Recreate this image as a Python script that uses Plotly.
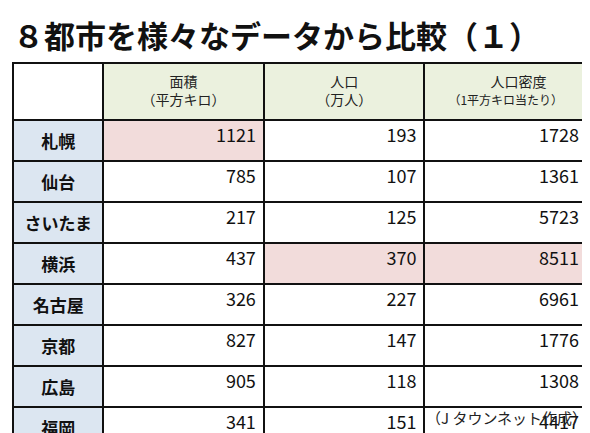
import plotly.graph_objects as go

cities = ["札幌", "仙台", "さいたま", "横浜", "名古屋", "京都", "広島", "福岡"]
area = [1121, 785, 217, 437, 326, 827, 905, 341]
population = [193, 107, 125, 370, 227, 147, 118, 151]
density = [1728, 1361, 5723, 8511, 6961, 1776, 1308, 4417]
headers = ["", "　　面積<br>（平方キロ）", "　人口<br>（万人）",
           "　　　人口密度<br><span style='font-size:12px'>（1平方キロ当たり）</span>"]

# 強調セル
pink = "#f2dcdb"
white = "white"
col_area = [pink if c == "札幌" else white for c in cities]
col_pop = [pink if c == "横浜" else white for c in cities]
col_den = [pink if c == "横浜" else white for c in cities]

fig = go.Figure(go.Table(
    columnwidth=[90, 160, 160, 162],
    header=dict(
        values=headers,
        fill_color=["white", "#ebf1de", "#ebf1de", "#ebf1de"],
        line=dict(color="#111", width=2),
        align="center",
        height=57,
        font=dict(family="Noto Sans CJK JP", size=14, color="#222"),
    ),
    cells=dict(
        values=[["<b>" + c + "</b>" for c in cities], area, population, density],
        fill_color=[["#dce6f1"] * 8, col_area, col_pop, col_den],
        line=dict(color="#111", width=2),
        align=["center", "right", "right", "right"],
        height=33.5,
        font=dict(family="Noto Sans CJK JP", size=[17, 18, 18, 18], color="#111"),
    ),
    domain=dict(x=[5 / 590, 579 / 590], y=[0, 1 - 55 / 433]),
))

fig.add_annotation(text="<b>８都市を様々なデータから比較（１）</b>", x=0.005, y=1 - 2 / 433,
                   xref="paper", yref="paper", xanchor="left", yanchor="top", showarrow=False,
                   font=dict(family="Noto Sans CJK JP", size=31, color="#111"))
fig.add_annotation(text="（J タウンネット作成）", x=0.985, y=1 - 397 / 433,
                   xref="paper", yref="paper", xanchor="right", yanchor="top", showarrow=False,
                   font=dict(family="Noto Sans CJK JP", size=15, color="#222"))

fig.update_layout(width=590, height=433, margin=dict(l=0, r=0, t=0, b=0),
                  paper_bgcolor="white")

fig.write_html("out.html")
